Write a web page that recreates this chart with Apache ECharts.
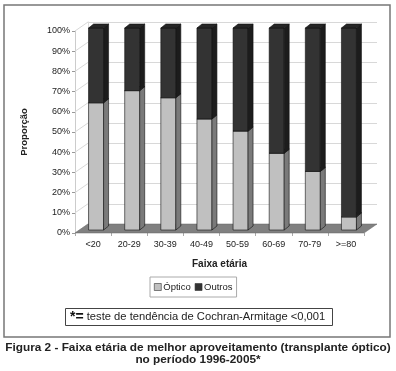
<!DOCTYPE html>
<html><head><meta charset="utf-8">
<script src="https://cdn.jsdelivr.net/npm/echarts@6/dist/echarts.min.js"></script>
<style>html,body{margin:0;padding:0;background:#fff}#c{width:396px;height:371px}</style>
</head><body><div id="c"></div>
<script>
const categories = ['<20','20-29','30-39','40-49','50-59','60-69','70-79','>=80'];
const optico = [63, 69, 65.5, 55, 49, 38, 29, 6.5];
const outros = [37, 31, 34.5, 45, 51, 62, 71, 93.5];
const yTicks = [0,10,20,30,40,50,60,70,80,90,100];

const FONT = 'Liberation Sans, Arial, sans-serif';
const DX = 3, DY = -3, BW = 15, SD = 5, SDY = 4;
const WX = 13, WY = -9;

function barRender(front, side, top) {
  return function (params, api) {
    const cat = api.value(0), lo = api.value(1), hi = api.value(2);
    const p0 = api.coord([cat, lo]), p1 = api.coord([cat, hi]);
    const cx = p0[0] + DX, yb = p0[1] + DY, yt = p1[1] + DY;
    const x0 = cx - BW / 2, x1 = cx + BW / 2;
    const st = {stroke: '#111', lineWidth: 0.6};
    return {type: 'group', children: [
      {type: 'rect', shape: {x: x0, y: yt, width: BW, height: yb - yt}, style: Object.assign({fill: front}, st)},
      {type: 'polygon', shape: {points: [[x1, yb], [x1 + SD, yb - SDY], [x1 + SD, yt - SDY], [x1, yt]]}, style: Object.assign({fill: side}, st)},
      {type: 'polygon', shape: {points: [[x0, yt], [x1, yt], [x1 + SD, yt - SDY], [x0 + SD, yt - SDY]]}, style: Object.assign({fill: top}, st)}
    ]};
  };
}

const chart = echarts.init(document.getElementById('c'));
chart.setOption({
  animation: false,
  backgroundColor: '#fff',
  textStyle: {fontFamily: FONT},
  grid: [
    {left: 75, top: 31, width: 289, height: 202},
    {left: 75 + WX, top: 31 + WY, width: 289, height: 202}
  ],
  xAxis: [
    {type: 'category', gridIndex: 0, data: categories, boundaryGap: true,
     axisLine: {show: false}, axisTick: {show: true, lineStyle: {color: '#aaa'}, length: 3},
     axisLabel: {fontSize: 9, color: '#222', margin: 7, fontFamily: FONT},
     name: 'Faixa etária', nameLocation: 'middle', nameGap: 26,
     nameTextStyle: {fontSize: 10, fontWeight: 'bold', color: '#222', fontFamily: FONT}},
    {type: 'category', gridIndex: 1, data: categories, show: false}
  ],
  yAxis: [
    {type: 'value', gridIndex: 0, min: 0, max: 100, interval: 10,
     axisLine: {show: true, lineStyle: {color: '#ccc'}},
     axisTick: {show: true, length: 3, lineStyle: {color: '#999'}},
     splitLine: {show: false},
     axisLabel: {fontSize: 9, color: '#222', margin: 5, formatter: '{value}%', fontFamily: FONT},
     name: 'Proporção', nameLocation: 'middle', nameGap: 46, nameRotate: 90,
     nameTextStyle: {fontSize: 9.5, fontWeight: 'bold', color: '#222', fontFamily: FONT}},
    {type: 'value', gridIndex: 1, min: 0, max: 100, interval: 10,
     axisLine: {show: true, lineStyle: {color: '#ddd'}}, axisTick: {show: false}, axisLabel: {show: false},
     splitLine: {show: true, lineStyle: {color: '#d8d8d8', width: 1}}}
  ],
  legend: {
    top: 277, left: 150, itemWidth: 7, itemHeight: 7, itemGap: 4,
    borderColor: '#aaa', borderWidth: 1, padding: [5, 4],
    icon: 'rect',
    itemStyle: {borderColor: '#333', borderWidth: 0.6},
    textStyle: {fontSize: 9.5, color: '#222', fontFamily: FONT, padding: [0, 0, 0, -3]},
    data: ['Óptico', 'Outros']
  },
  title: [
    {left: 65, top: 308, borderColor: '#444', borderWidth: 1, padding: [2, 8, 2, 5],
     text: '{b|*=}{n| teste de tendência de Cochran-Armitage <0,001}',
     textStyle: {fontWeight: 'normal', rich: {
       b: {fontSize: 14, fontWeight: 'bold', color: '#111', fontFamily: FONT},
       n: {fontSize: 11.2, fontWeight: 'normal', color: '#222', fontFamily: FONT}
     }}},
    {left: 'center', top: 342, padding: 0,
     text: 'Figura 2 - Faixa etária de melhor aproveitamento (transplante óptico)',
     textStyle: {fontSize: 11.8, fontWeight: 'bold', color: '#222', fontFamily: FONT}},
    {left: 'center', top: 354, padding: 0,
     text: 'no período 1996-2005*',
     textStyle: {fontSize: 11.8, fontWeight: 'bold', color: '#222', fontFamily: FONT}}
  ],
  graphic: [
    {type: 'rect', shape: {x: 4, y: 5, width: 386, height: 332}, style: {fill: 'none', stroke: '#777', lineWidth: 1.5}, z: 100}
  ],
  series: [
    {type: 'custom', xAxisIndex: 0, yAxisIndex: 0, silent: true, z: 1,
     renderItem: function (params, api) {
       const v = api.value(0);
       const p = api.coord([0, v]);
       const x = p[0] - api.size([1, 0])[0] / 2;
       return {type: 'line', shape: {x1: x, y1: p[1], x2: x + WX, y2: p[1] + WY}, style: {stroke: '#d8d8d8', lineWidth: 1}};
     },
     encode: {y: 0},
     data: yTicks.map(v => [v])},
    {type: 'custom', xAxisIndex: 0, yAxisIndex: 0, silent: true, z: 2,
     renderItem: function (params, api) {
       const bw = api.size([1, 0])[0];
       const a = api.coord([0, 0]), b = api.coord([categories.length - 1, 0]);
       const xl = a[0] - bw / 2, xr = b[0] + bw / 2, y = a[1];
       return {type: 'polygon', shape: {points: [[xl, y], [xr, y], [xr + WX, y + WY], [xl + WX, y + WY]]},
               style: {fill: '#808080', stroke: '#666', lineWidth: 0.5}};
     },
     data: [[0, 0]]},
    {name: 'Óptico', type: 'custom', xAxisIndex: 0, yAxisIndex: 0, z: 3,
     itemStyle: {color: '#c0c0c0'},
     renderItem: barRender('#c0c0c0', '#7a7a7a', '#d0d0d0'),
     encode: {x: 0, y: 2},
     data: optico.map((v, i) => [i, 0, v])},
    {name: 'Outros', type: 'custom', xAxisIndex: 0, yAxisIndex: 0, z: 4,
     itemStyle: {color: '#333333'},
     renderItem: barRender('#333333', '#1c1c1c', '#262626'),
     encode: {x: 0, y: [1, 2]},
     data: optico.map((v, i) => [i, v, v + outros[i]])}
  ]
});
</script></body></html>
